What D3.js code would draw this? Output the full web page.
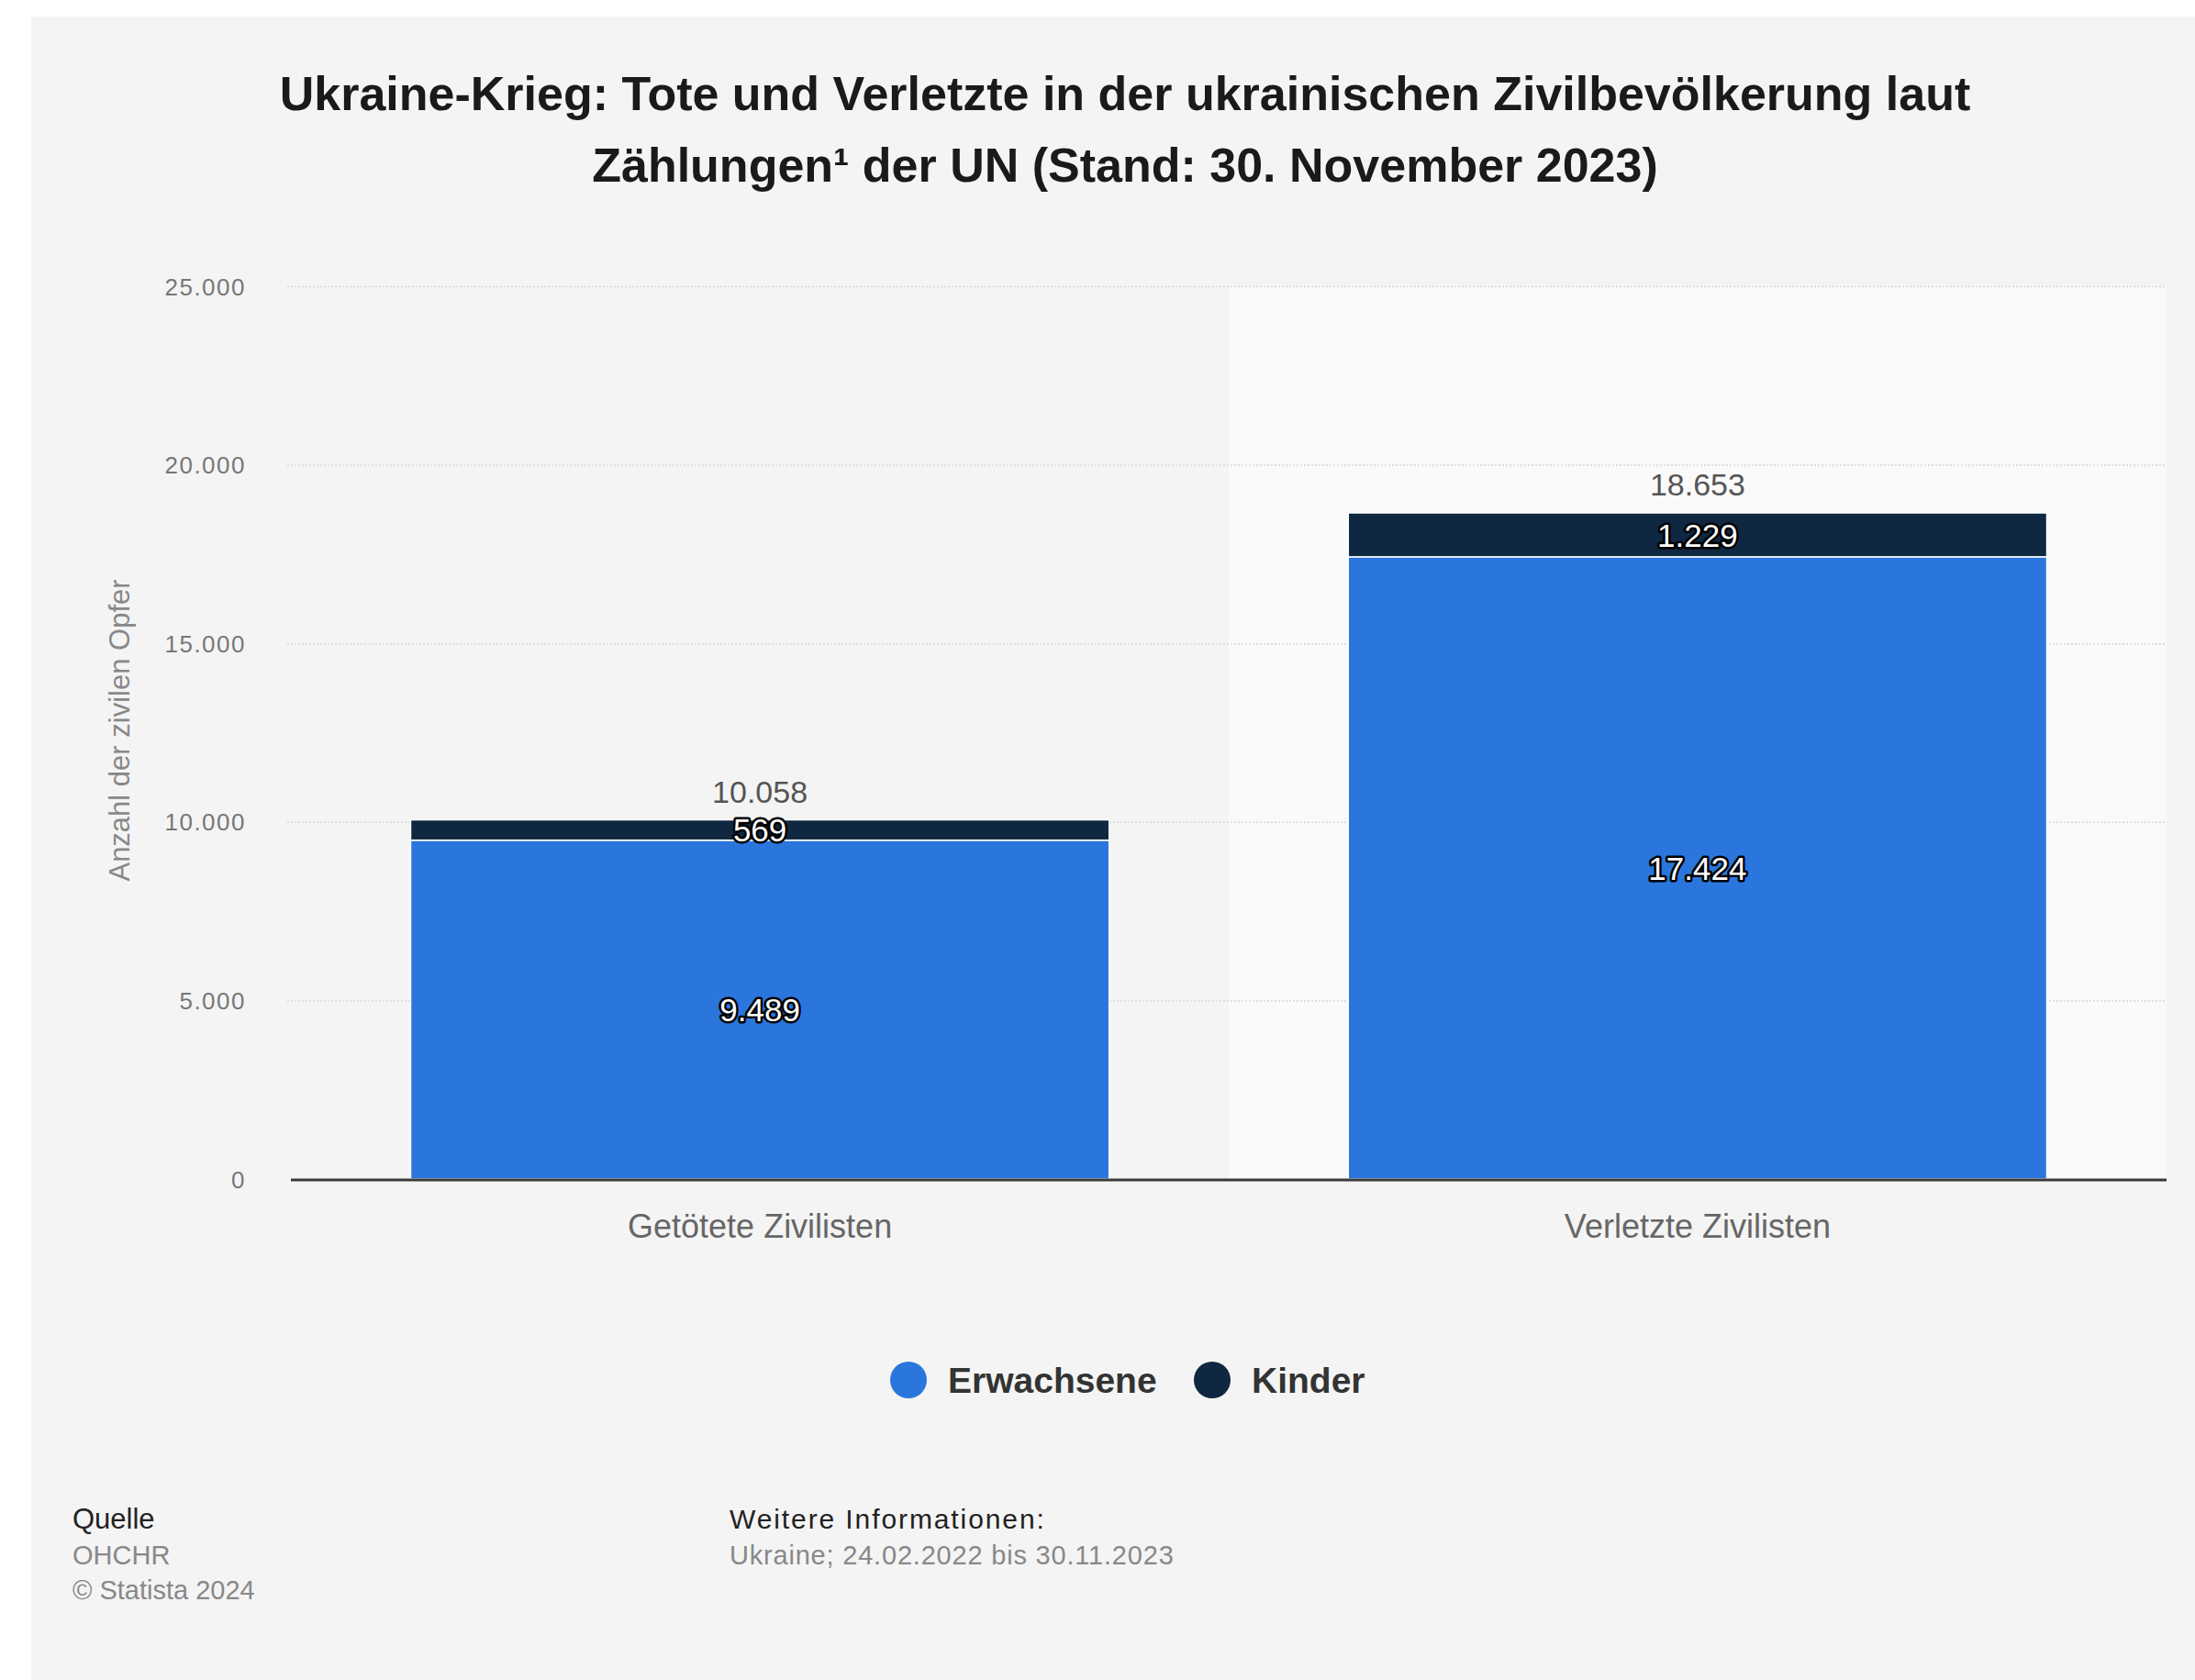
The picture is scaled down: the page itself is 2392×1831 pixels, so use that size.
<!DOCTYPE html>
<html>
<head>
<meta charset="utf-8">
<script src="https://cdn.jsdelivr.net/npm/d3@7"></script>
<style>
  html, body { margin: 0; padding: 0; background: #ffffff; }
  svg { display: block; font-family: "Liberation Sans", Arial, Helvetica, sans-serif; }
</style>
</head>
<body>
<svg id="chart" width="2392" height="1831"></svg>
<script>
const categories = ["Getötete Zivilisten", "Verletzte Zivilisten"];
const seriesNames = ["Erwachsene", "Kinder"];
const erwachsene = [9489, 17424];
const kinder = [569, 1229];
const totals = [10058, 18653];
const yTicks = [0, 5000, 10000, 15000, 20000, 25000];
const yTickLabels = ["0", "5.000", "10.000", "15.000", "20.000", "25.000"];
const colors = ["#2a76dd", "#0f2740"];

const fmt = v => d3.format(",")(v).replace(/,/g, ".");

const svg = d3.select("#chart");
svg.append("rect").attr("x", 34).attr("y", 18).attr("width", 2392 - 34).attr("height", 1831 - 18).attr("fill", "#f4f4f4");

const x = d3.scaleBand().domain(categories).range([317, 2361]).paddingInner(0.255).paddingOuter(0.1277);
const y = d3.scaleLinear().domain([0, 25000]).range([1285, 312]);
const step = x.step(), bw = x.bandwidth();

// highlighted band for second category
svg.append("rect")
  .attr("x", x(categories[1]) - (step - bw) / 2)
  .attr("y", y(25000))
  .attr("width", step)
  .attr("height", y(0) - y(25000))
  .attr("fill", "#fafafa");

// title
const title = svg.append("text").attr("text-anchor", "middle").attr("font-weight", "bold").attr("font-size", 52).attr("fill", "#1a1a1a");
title.append("tspan").attr("x", 1226).attr("y", 120).text("Ukraine-Krieg: Tote und Verletzte in der ukrainischen Zivilbevölkerung laut");
title.append("tspan").attr("x", 1226).attr("y", 198).text("Zählungen¹ der UN (Stand: 30. November 2023)");

// gridlines
svg.append("g").selectAll("line").data(yTicks.slice(1)).join("line")
  .attr("x1", 313).attr("x2", 2361)
  .attr("y1", d => y(d) + 0.5).attr("y2", d => y(d) + 0.5)
  .attr("stroke", "#d6d6d6").attr("stroke-width", 1.5).attr("stroke-dasharray", "2,2");

// y axis labels
const yAxis = d3.axisLeft(y).tickValues(yTicks).tickFormat((d, i) => yTickLabels[i]).tickSize(0).tickPadding(0);
const gy = svg.append("g").attr("transform", "translate(268,0)").call(yAxis);
gy.select(".domain").remove();
gy.selectAll("text").attr("font-size", 26).attr("fill", "#777").attr("font-family", "Liberation Sans, Arial, sans-serif").attr("letter-spacing", "1.5px").attr("dy", "0.35em");

// y axis title
svg.append("text").attr("transform", "translate(130,796) rotate(-90)").attr("text-anchor", "middle").attr("dy", "0.35em")
  .attr("font-size", 31).attr("fill", "#888").text("Anzahl der zivilen Opfer");

// bars
const stackData = categories.map((c, i) => ({ cat: c, Erwachsene: erwachsene[i], Kinder: kinder[i] }));
const stack = d3.stack().keys(seriesNames)(stackData);
const gBars = svg.append("g");
stack.forEach((layer, li) => {
  gBars.append("g").selectAll("rect").data(layer).join("rect")
    .attr("x", d => x(d.data.cat))
    .attr("width", bw)
    .attr("y", d => y(d[1]))
    .attr("height", d => y(d[0]) - y(d[1]))
    .attr("fill", colors[li])
    .attr("stroke", "#ffffff").attr("stroke-width", 1.5);
});

// axis baseline
svg.append("line").attr("x1", 317).attr("x2", 2361).attr("y1", y(0) + 1).attr("y2", y(0) + 1)
  .attr("stroke", "#3a3a3a").attr("stroke-width", 3);

// inner labels
stack.forEach(layer => {
  svg.append("g").selectAll("text").data(layer).join("text")
    .attr("x", d => x(d.data.cat) + bw / 2)
    .attr("y", d => (y(d[0]) + y(d[1])) / 2)
    .attr("dy", "0.36em")
    .attr("text-anchor", "middle")
    .attr("font-size", 35)
    .attr("fill", "#ffffff")
    .attr("stroke", "#000000").attr("stroke-width", 5).attr("stroke-linejoin", "round")
    .attr("paint-order", "stroke")
    .text(d => fmt(d[1] - d[0]));
});

// totals
svg.append("g").selectAll("text").data(categories).join("text")
  .attr("x", d => x(d) + bw / 2)
  .attr("y", (d, i) => y(totals[i]) - 19)
  .attr("text-anchor", "middle")
  .attr("font-size", 34).attr("fill", "#555")
  .text((d, i) => fmt(totals[i]));

// x labels
const xAxis = d3.axisBottom(x).tickSize(0).tickPadding(0);
const gx = svg.append("g").attr("transform", `translate(0,1336)`).call(xAxis);
gx.select(".domain").remove();
gx.selectAll("text").attr("dy", "0.35em").attr("font-size", 36).attr("fill", "#666").attr("font-family", "Liberation Sans, Arial, sans-serif");

// legend
const legendX = [990, 1321];
const lg = svg.append("g");
seriesNames.forEach((s, i) => {
  lg.append("circle").attr("cx", legendX[i]).attr("cy", 1504).attr("r", 20).attr("fill", colors[i]);
  lg.append("text").attr("x", legendX[i] + 43).attr("y", 1504).attr("dy", "0.36em")
    .attr("font-size", 39).attr("font-weight", "bold").attr("fill", "#333").text(s);
});

// footer
svg.append("text").attr("x", 79).attr("y", 1666).attr("font-size", 31).attr("fill", "#222").text("Quelle");
svg.append("text").attr("x", 79).attr("y", 1705).attr("font-size", 29).attr("fill", "#888").text("OHCHR");
svg.append("text").attr("x", 79).attr("y", 1743).attr("font-size", 29).attr("fill", "#888").text("© Statista 2024");
svg.append("text").attr("x", 795).attr("y", 1666).attr("font-size", 30).attr("fill", "#222").attr("letter-spacing", "1.9px").text("Weitere Informationen:");
svg.append("text").attr("x", 795).attr("y", 1705).attr("font-size", 29).attr("fill", "#888").attr("letter-spacing", "0.8px").text("Ukraine; 24.02.2022 bis 30.11.2023");
</script>
</body>
</html>
